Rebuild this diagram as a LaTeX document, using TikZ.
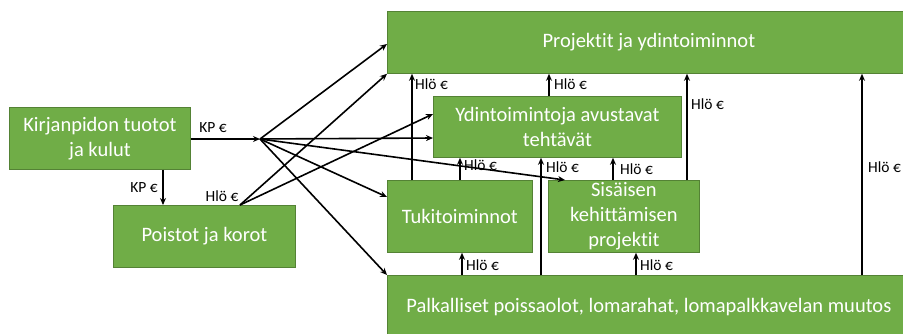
\documentclass[tikz,border=0pt]{standalone}
\usepackage{fontspec}
\setmainfont[Ligatures=NoCommon]{Carlito}
\usetikzlibrary{arrows.meta}
\definecolor{boxfill}{HTML}{70AD47}
\definecolor{boxline}{HTML}{548235}
\begin{document}
\begin{tikzpicture}[x=1pt,y=-1pt,
  box/.style={draw=boxline,line width=0.8pt,fill=boxfill,text=white,inner sep=0pt,anchor=north west,align=center,
    font=\fontsize{20.5}{25}\selectfont},
  arr/.style={line width=1.6pt,-{Stealth[length=7pt,width=6pt]}},
  lbl/.style={font=\fontsize{15.5}{18}\selectfont,inner sep=0pt,text=black}]
\useasboundingbox (0,0) rectangle (903,333);
\clip (0,0) rectangle (903,333);
% boxes
\node[box,minimum width=181pt,minimum height=62pt] (kirj) at (9,107) {Kirjanpidon tuotot\\ja kulut};
\node[box,minimum width=182pt,minimum height=62pt] (pois) at (113,205) {Poistot ja korot};
\node[box,minimum width=523pt,minimum height=62pt] (proj) at (387,11) {Projektit ja ydintoiminnot};
\node[box,minimum width=248pt,minimum height=61pt] (ydin) at (433,96) {Ydintoimintoja avustavat\\tehtävät};
\node[box,minimum width=145pt,minimum height=72pt] (tuki) at (387,180) {Tukitoiminnot};
\node[box,minimum width=151pt,minimum height=72pt] (sis) at (548,180) {Sisäisen\\kehittämisen\\projektit};
\node[box,minimum width=523pt,minimum height=64pt] (palk) at (387,275) {Palkalliset poissaolot, lomarahat, lomapalkkavelan muutos};
% hub
\coordinate (hub) at (260,139);
\coordinate (poisout) at (240,205);
% left arrows
\draw[arr] (kirj.east |- 0,139) -- (hub);
\node[lbl] (lkp1) at (213,128) {KP €};
\draw[arr] (kirj.south -| 163,0) -- (pois.north -| 163,0);
\node[lbl] (lkp2) at (144,188) {KP €};
\node[lbl] (lpo) at (222,196) {Hlö €};
% from hub
\draw[arr] (hub) -- (proj.west |- 0,44);
\draw[arr] (hub) -- (ydin.west |- 0,138);
\draw[arr] (hub) -- (sis.north -| 565,0);
\draw[arr] (hub) -- (tuki.west |- 0,197);
\draw[arr] (hub) -- (palk.north west);
% from poistot
\draw[arr] (poisout) -- (proj.south west);
\draw[arr] (poisout) -- (ydin.west |- 0,114);
% vertical arrows
\draw[arr] (tuki.north -| 412,0) -- (proj.south -| 412,0);
\node[lbl,anchor=west] (l1) at (415,84) {Hlö €};
\draw[arr] (ydin.north -| 549,0) -- (proj.south -| 549,0);
\node[lbl,anchor=west] (l2) at (554,84) {Hlö €};
\draw[arr] (sis.north -| 687,0) -- (proj.south -| 687,0);
\node[lbl,anchor=west] (l3) at (691,104) {Hlö €};
\draw[arr] (palk.north -| 862,0) -- (proj.south -| 862,0);
\node[lbl,anchor=west] (l4) at (868,167) {Hlö €};
\draw[arr] (tuki.north -| 460,0) -- (ydin.south -| 460,0);
\node[lbl,anchor=west] (l5) at (464,165) {Hlö €};
\draw[arr] (palk.north -| 541,0) -- (ydin.south -| 541,0);
\node[lbl,anchor=west] (l6) at (546,167) {Hlö €};
\draw[arr] (sis.north -| 613,0) -- (ydin.south -| 613,0);
\node[lbl,anchor=west] (l7) at (620,169) {Hlö €};
\draw[arr] (palk.north -| 462,0) -- (tuki.south -| 462,0);
\node[lbl,anchor=west] (l8) at (466,265) {Hlö €};
\draw[arr] (palk.north -| 636,0) -- (sis.south -| 636,0);
\node[lbl,anchor=west] (l9) at (640,265) {Hlö €};
\end{tikzpicture}
\end{document}
